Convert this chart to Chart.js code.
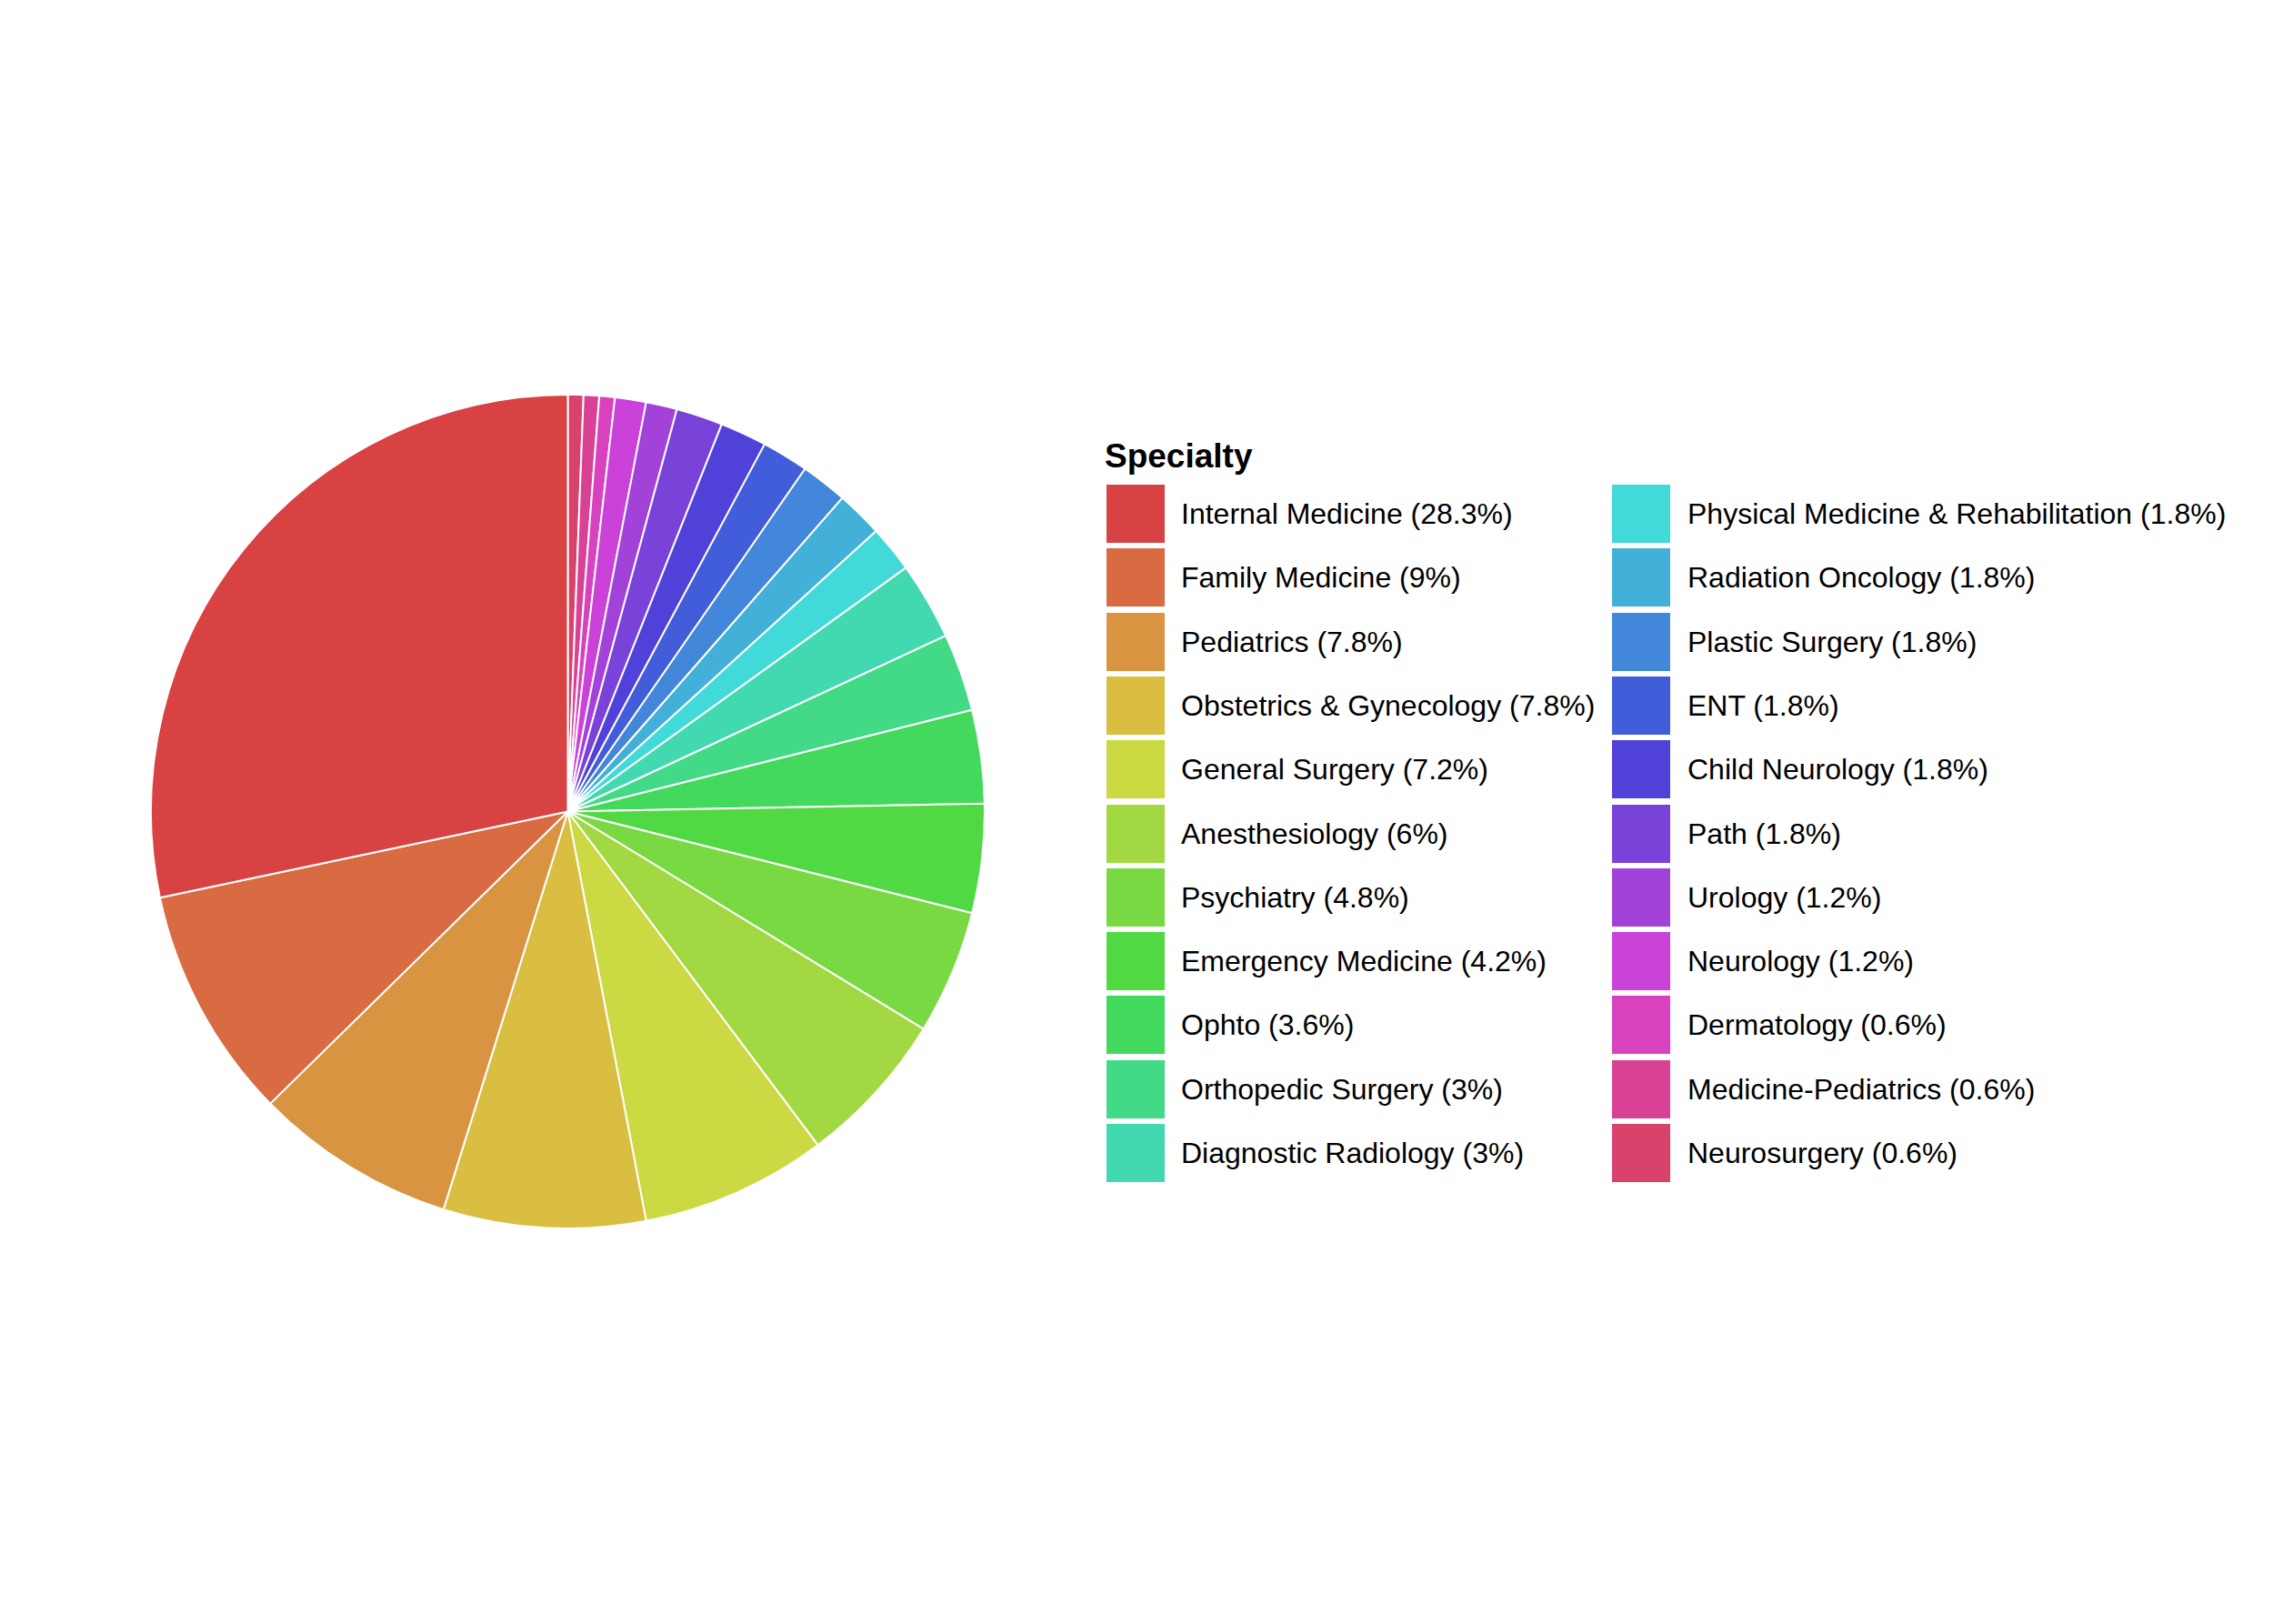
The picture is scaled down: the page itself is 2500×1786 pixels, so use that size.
<!DOCTYPE html>
<html>
<head>
<meta charset="utf-8">
<script src="https://cdn.jsdelivr.net/npm/chart.js@4/dist/chart.umd.min.js"></script>
<style>
  html, body { margin: 0; padding: 0; background: #fff; }
  body { width: 2500px; height: 1786px; position: relative; overflow: hidden;
         font-family: "Liberation Sans", Arial, Helvetica, sans-serif; }
  #pieBox { position: absolute; left: 165px; top: 433px; width: 919px; height: 919px; }
  #legendTitle { position: absolute; left: 1215px; top: 480px; font-size: 37px; font-weight: bold;
                 color: #000; line-height: 44px; }
  .key { position: absolute; width: 64px; height: 64px; }
  .keyText { position: absolute; font-size: 32px; color: #000; line-height: 64px; white-space: nowrap; }
</style>
</head>
<body>
<div id="pieBox"><canvas id="pieChart" width="919" height="919"></canvas></div>
<div id="legendTitle">Specialty</div>
<div id="legend"></div>
<script>
// Especialidades (orden de la leyenda)
const specialties = [
    'Internal Medicine', 'Family Medicine', 'Pediatrics', 'Obstetrics & Gynecology',
    'General Surgery', 'Anesthesiology', 'Psychiatry', 'Emergency Medicine', 'Ophto',
    'Orthopedic Surgery', 'Diagnostic Radiology', 'Physical Medicine & Rehabilitation',
    'Radiation Oncology', 'Plastic Surgery', 'ENT', 'Child Neurology', 'Path', 'Urology',
    'Neurology', 'Dermatology', 'Medicine-Pediatrics', 'Neurosurgery'
];
const counts = [47, 15, 13, 13, 12, 10, 8, 7, 6, 5, 5, 3, 3, 3, 3, 3, 3, 2, 2, 1, 1, 1];

// Colores de cada especialidad
const colors = [
    '#D94242', '#D96B42', '#D99442', '#D9BE42', '#CBD942', '#A2D942', '#79D942', '#50D942',
    '#42D95D', '#42D987', '#42D9B0', '#42D9D9', '#42B0D9', '#4287D9', '#425DD9', '#5042D9',
    '#7942D9', '#A242D9', '#CB42D9', '#D942BE', '#D94294', '#D9426B'
];

const total = counts.reduce((a, b) => a + b, 0);

function pctLabel(v) {
    let p = Math.round(v / total * 1000) / 10;
    return String(p);
}

// Leyenda en dos columnas
const legend = document.getElementById('legend');
const perCol = 11;
specialties.forEach((name, i) => {
    const col = Math.floor(i / perCol);
    const row = i % perCol;
    const top = 533 + row * 70.3;
    const keyLeft = col === 0 ? 1217 : 1773;
    const textLeft = col === 0 ? 1299 : 1856;

    const key = document.createElement('div');
    key.className = 'key';
    key.style.left = keyLeft + 'px';
    key.style.top = top + 'px';
    key.style.background = colors[i];
    legend.appendChild(key);

    const txt = document.createElement('div');
    txt.className = 'keyText';
    txt.style.left = textLeft + 'px';
    txt.style.top = top + 'px';
    txt.textContent = name + ' (' + pctLabel(counts[i]) + '%)';
    legend.appendChild(txt);
});

// El pastel va en sentido antihorario: invertimos el orden para Chart.js
const pieLabels = specialties.slice().reverse();
const pieData = counts.slice().reverse();
const pieColors = colors.slice().reverse();

const ctx = document.getElementById('pieChart').getContext('2d');
new Chart(ctx, {
    type: 'pie',
    data: {
        labels: pieLabels,
        datasets: [{
            data: pieData,
            backgroundColor: pieColors,
            borderColor: '#ffffff',
            borderWidth: 2,
            hoverOffset: 0,
            offset: 0
        }]
    },
    options: {
        responsive: false,
        animation: false,
        devicePixelRatio: 1,
        layout: { padding: 0 },
        plugins: {
            legend: { display: false },
            tooltip: { enabled: false }
        }
    }
});
</script>
</body>
</html>
